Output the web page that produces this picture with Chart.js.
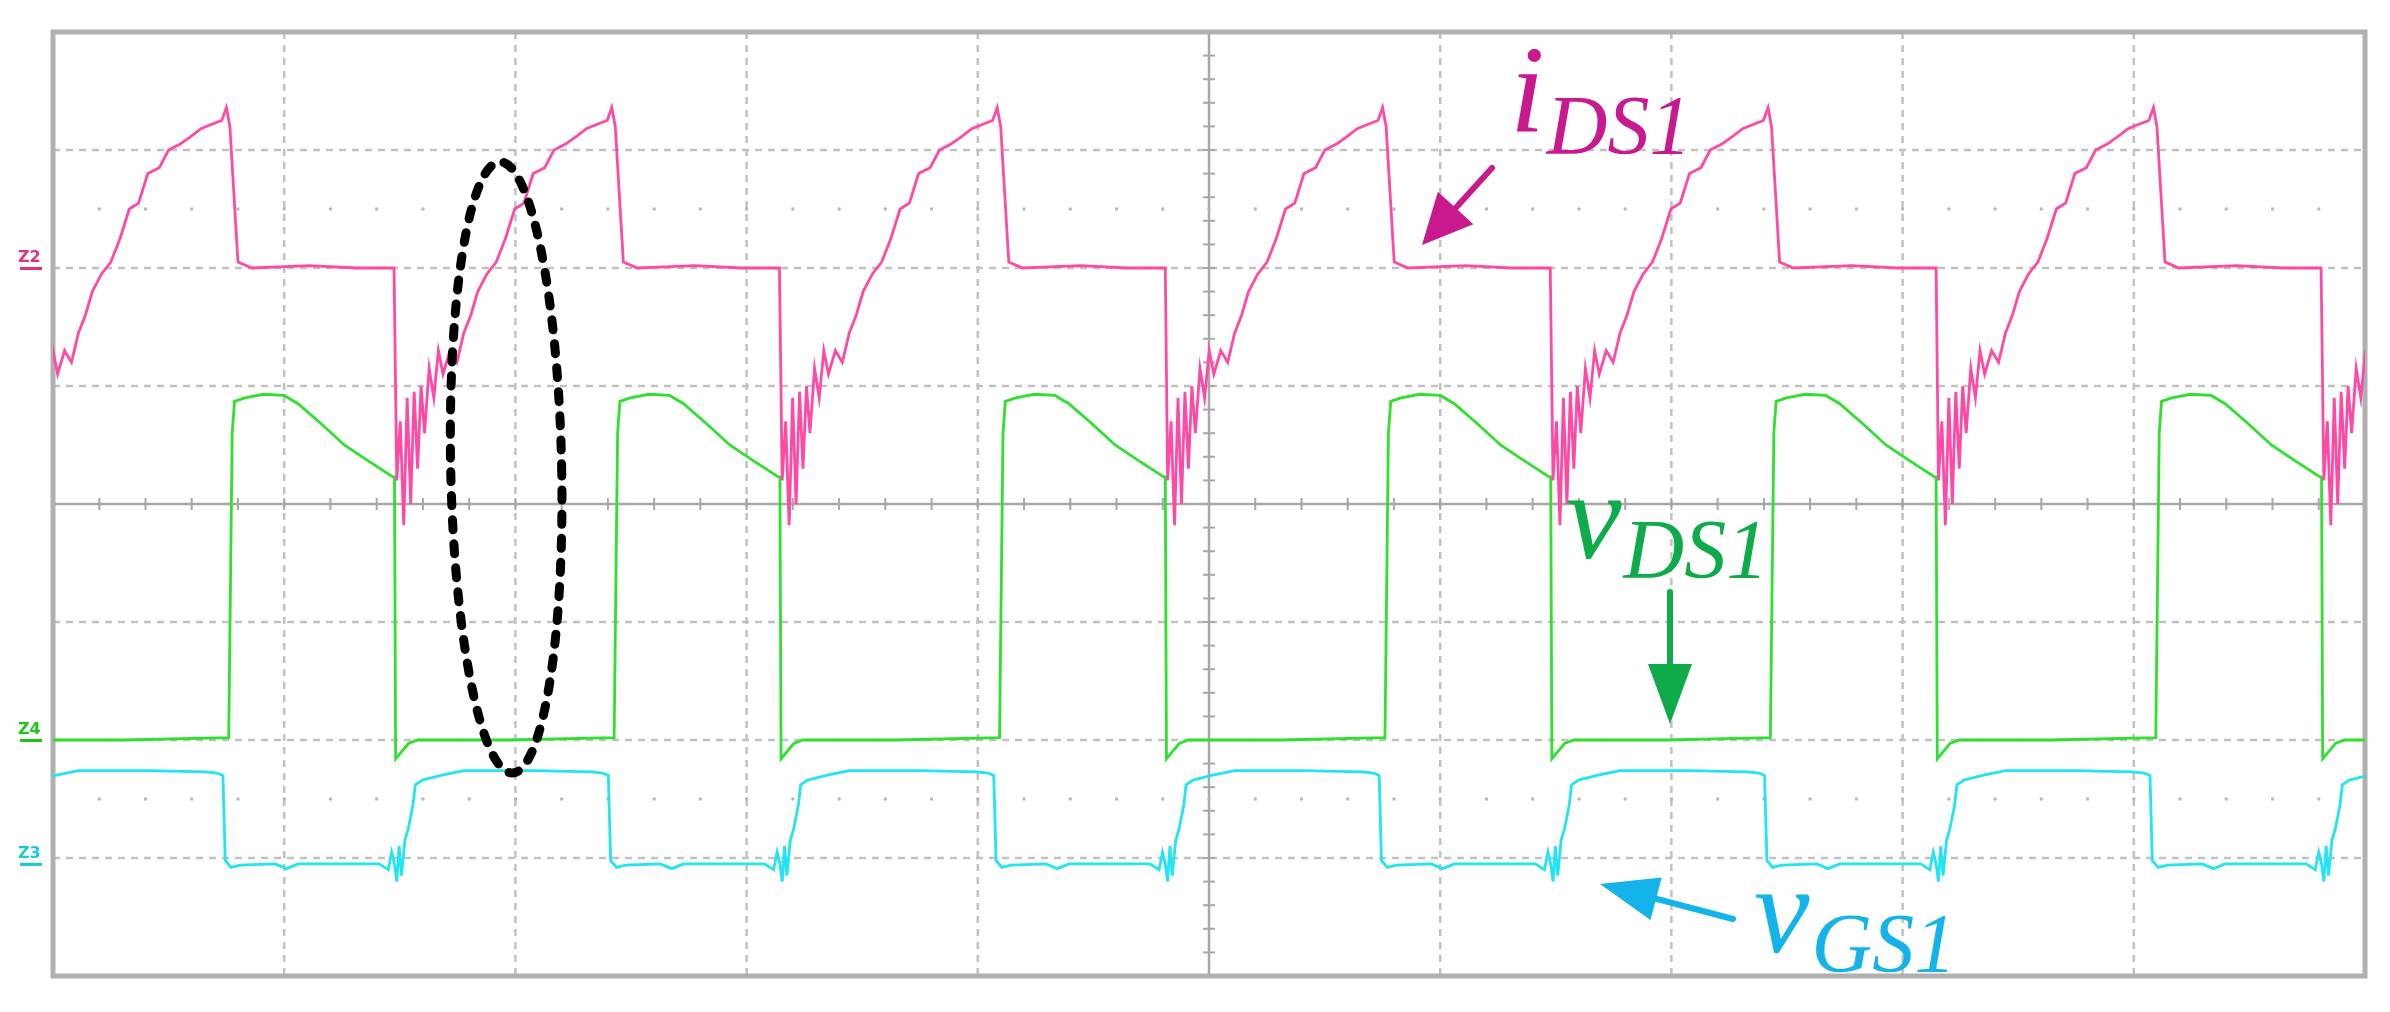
<!DOCTYPE html>
<html><head><meta charset="utf-8">
<script src="https://cdn.jsdelivr.net/npm/chart.js@4/dist/chart.umd.min.js"></script>
<style>html,body{margin:0;padding:0;background:#fff}#w{width:2390px;height:1012px}</style>
</head><body><div id="w"><canvas id="c"></canvas></div>
<script>
// time axis in divisions (10), amplitude in divisions (8)
const period = 1.667;
const firstDrop = -0.19;
const cycles = [0,1,2,3,4,5,6];
// i_DS1 (relative to drop instant)
const pinkOff = [0,0.01,0.025,0.04,0.055,0.07,0.085,0.10,0.115,0.13,0.15,0.17,0.19,0.21,0.24,0.27,0.30,0.33,0.36,0.40,0.44,0.48,0.52,0.56,0.60,0.65,0.69,0.74,0.79,0.83,0.88,0.92,0.94,0.955,0.99,1.05,1.3,1.5,1.665];
const pinkVal = [6.0,4.2,4.7,3.82,4.9,4.0,4.95,4.3,5.0,4.6,5.15,4.9,5.3,5.1,5.3,5.2,5.45,5.6,5.8,5.95,6.05,6.25,6.5,6.55,6.8,6.85,7.0,7.05,7.12,7.18,7.22,7.25,7.36,7.2,6.05,6.0,6.02,6.0,6.0];
// v_DS1
const greenOff = [0,0.005,0.03,0.06,0.1,0.5,0.95,0.965,0.975,1.02,1.1,1.19,1.25,1.35,1.45,1.55,1.66];
const greenVal = [4.23,1.84,1.9,1.97,2.0,2.0,2.02,4.6,4.87,4.9,4.93,4.92,4.85,4.68,4.5,4.37,4.23];
// v_GS1
const cyanOff = [0,0.01,0.02,0.03,0.045,0.06,0.08,0.09,0.12,0.2,0.3,0.6,0.85,0.9,0.925,0.935,0.96,1.0,1.15,1.2,1.25,1.6,1.64,1.655,1.667];
const cyanVal = [0.95,0.8,1.1,0.85,1.15,1.25,1.45,1.62,1.66,1.7,1.74,1.74,1.73,1.72,1.7,0.98,0.92,0.94,0.95,0.91,0.95,0.95,0.9,1.05,0.95];
const xDivs = [1,2,3,4,6,7,8,9];
const yDivs = [1,2,3,5,6,7];

function build(off,val){const pts=[];for(const k of cycles){const d=firstDrop+k*period;for(let i=0;i<off.length;i++)pts.push({x:d+off[i],y:val[i]});}return pts;}

const deco = {
  id:'deco',
  beforeDatasetsDraw(ch){
    const {ctx,chartArea:a,scales:{x,y}}=ch;
    ctx.save();
    ctx.strokeStyle='#c2c2c2';ctx.lineWidth=2.5;ctx.setLineDash([7,6]);
    for(const v of xDivs){const px=x.getPixelForValue(v);ctx.beginPath();ctx.moveTo(px,a.top);ctx.lineTo(px,a.bottom);ctx.stroke();}
    for(const v of yDivs){const py=y.getPixelForValue(v);ctx.beginPath();ctx.moveTo(a.left,py);ctx.lineTo(a.right,py);ctx.stroke();}
    ctx.setLineDash([]);
    ctx.strokeStyle='#a8a8a8';ctx.lineWidth=2.5;
    ctx.beginPath();ctx.moveTo(x.getPixelForValue(5),a.top);ctx.lineTo(x.getPixelForValue(5),a.bottom);
    ctx.moveTo(a.left,y.getPixelForValue(4));ctx.lineTo(a.right,y.getPixelForValue(4));ctx.stroke();
    ctx.lineWidth=2;
    for(let i=0;i<=50;i++){const px=x.getPixelForValue(i*0.2);const py=y.getPixelForValue(4);ctx.beginPath();ctx.moveTo(px,py-6);ctx.lineTo(px,py+6);ctx.stroke();}
    for(let i=0;i<=40;i++){const py=y.getPixelForValue(i*0.2);const px=x.getPixelForValue(5);ctx.beginPath();ctx.moveTo(px-6,py);ctx.lineTo(px+6,py);ctx.stroke();}
    ctx.fillStyle='#b8b8b8';
    for(const yy of [6.5,1.5])for(let i=0;i<=50;i++){ctx.fillRect(x.getPixelForValue(i*0.2)-1.5,y.getPixelForValue(yy)-1.5,3,3);}
    ctx.strokeStyle='#b0b0b0';ctx.lineWidth=5;ctx.strokeRect(a.left,a.top,a.width,a.height);
    const mk=[[6.0,'#e0307f','2'],[2.0,'#1ec41e','4'],[0.95,'#19c8d8','3']];
    ctx.font='bold 16px "DejaVu Sans"';ctx.textBaseline='bottom';
    for(const [v,c,t] of mk){const py=y.getPixelForValue(v);ctx.fillStyle=c;ctx.fillText('Z'+t,18,py-2);ctx.fillRect(20,py-1,22,3);}
    ctx.restore();
  },
  afterDatasetsDraw(ch){
    const {ctx,scales:{x,y}}=ch;
    ctx.save();
    ctx.strokeStyle='#000';ctx.lineWidth=9;ctx.setLineDash([10,14]);ctx.lineCap='round';
    ctx.beginPath();
    const cx=x.getPixelForValue(1.96),cy=y.getPixelForValue(4.31);
    const rx=x.getPixelForValue(2.2)-cx, ry=cy-y.getPixelForValue(6.9);
    ctx.ellipse(cx,cy,rx,ry,-0.02,0,Math.PI*2);ctx.stroke();
    ctx.setLineDash([]);
    function label(main,sub,x0,yb,ys,col,fs,ss){ctx.fillStyle=col;ctx.font='italic '+fs+'px "Liberation Serif"';ctx.textBaseline='alphabetic';ctx.fillText(main,x0,yb);const w=ctx.measureText(main).width;ctx.font='italic '+ss+'px "Liberation Serif"';ctx.fillText(sub,x0+w+2,ys);}
    function arrow(x1,y1,x2,y2,col,hw,hl){ctx.strokeStyle=col;ctx.fillStyle=col;ctx.lineWidth=6;const ang=Math.atan2(y2-y1,x2-x1);const bx=x2-hl*Math.cos(ang),by=y2-hl*Math.sin(ang);ctx.beginPath();ctx.moveTo(x1,y1);ctx.lineTo(bx,by);ctx.stroke();ctx.beginPath();ctx.moveTo(x2,y2);ctx.lineTo(bx+hw*Math.sin(ang),by-hw*Math.cos(ang));ctx.lineTo(bx-hw*Math.sin(ang),by+hw*Math.cos(ang));ctx.closePath();ctx.fill();}
    label('i','DS1',1510,132,154,'#c8198e',125,84);
    arrow(1492,168,1422,245,'#c8198e',24,50);
    label('v','DS1',1566,558,578,'#0faa4a',125,84);
    arrow(1670,592,1670,724,'#0faa4a',22,60);
    label('v','GS1',1754,952,972,'#14b4ea',125,84);
    arrow(1733,919,1600,884,'#14b4ea',22,58);
    ctx.restore();
  }
};

const ds=(data,c)=>({data,borderColor:c,borderWidth:2.8,pointRadius:0,tension:0,fill:false});
new Chart(document.getElementById('c'),{
  type:'line',
  data:{datasets:[ds(build(pinkOff,pinkVal),'#ff4aa5'),ds(build(greenOff,greenVal),'#2fe02f'),ds(build(cyanOff,cyanVal),'#22e4f2')]},
  options:{responsive:true,maintainAspectRatio:false,animation:false,
    layout:{padding:{left:45,top:32,right:25,bottom:28}},
    plugins:{legend:{display:false},tooltip:{enabled:false}},
    scales:{
      x:{type:'linear',min:0,max:10,ticks:{display:false},border:{display:false},grid:{display:false}},
      y:{type:'linear',min:0,max:8,ticks:{display:false},border:{display:false},grid:{display:false}}
    }
  },
  plugins:[deco]
});
</script></body></html>
